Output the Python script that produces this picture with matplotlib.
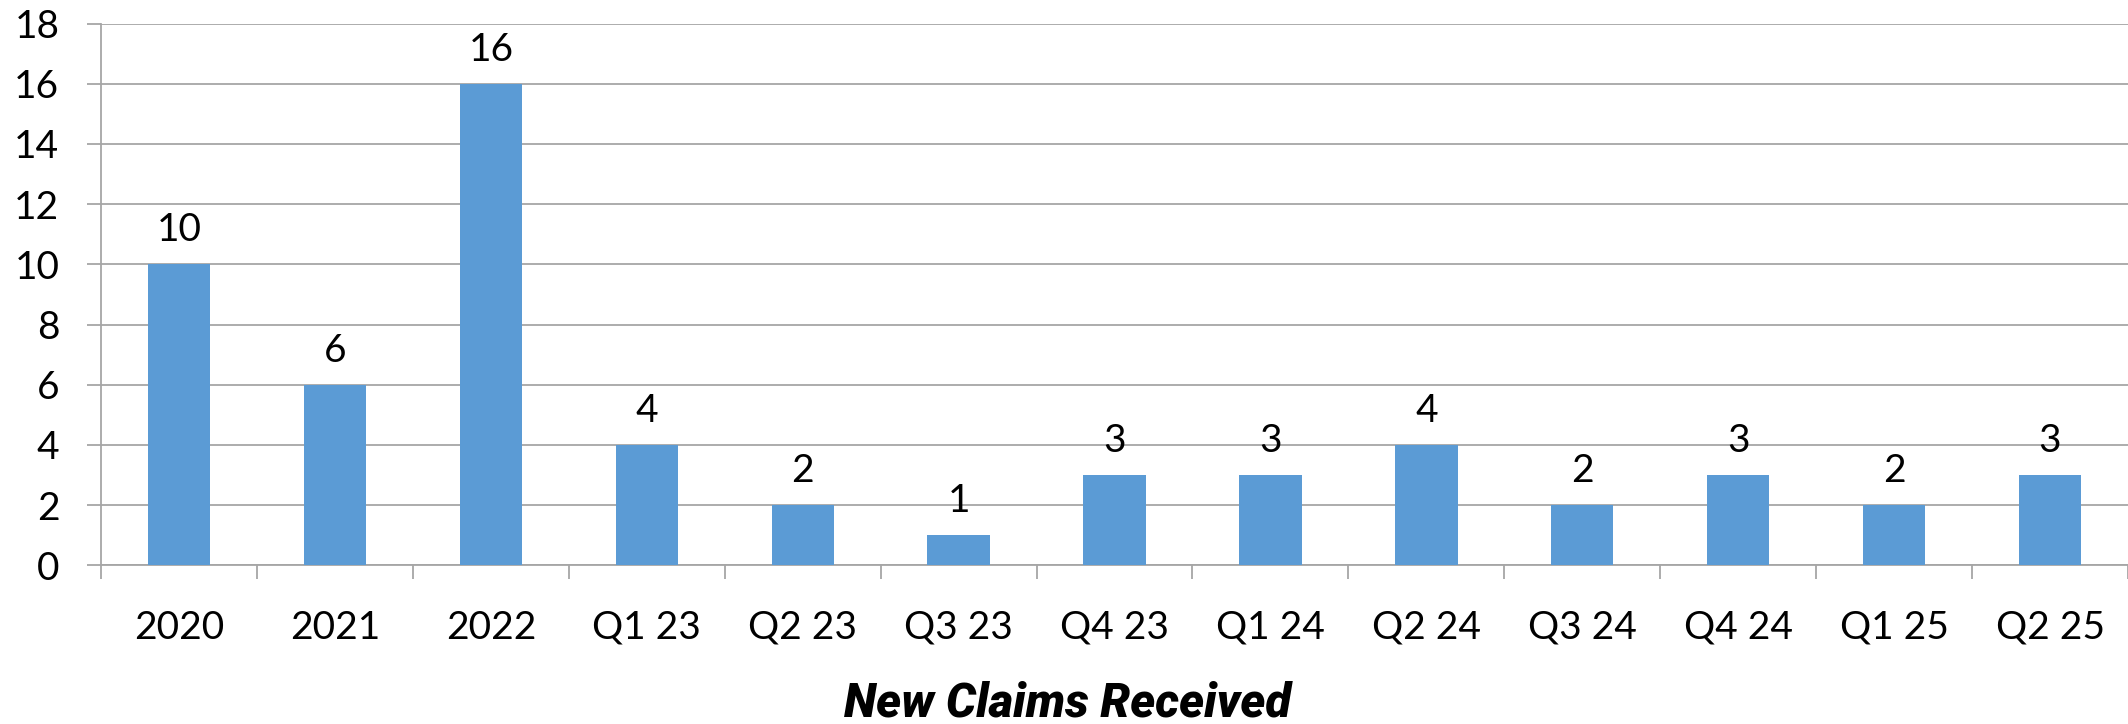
import matplotlib
matplotlib.use("Agg")
import matplotlib.pyplot as plt
import numpy as np

categories = ["2020", "2021", "2022", "Q1 23", "Q2 23", "Q3 23", "Q4 23",
              "Q1 24", "Q2 24", "Q3 24", "Q4 24", "Q1 25", "Q2 25"]
claims = [10, 6, 16, 4, 2, 1, 3, 3, 4, 2, 3, 2, 3]
y_ticks = [0, 2, 4, 6, 8, 10, 12, 14, 16, 18]
title = "New Claims Received"

BAR_COLOR = "#5B9BD5"
GRID_COLOR = "#A6A6A6"
LABEL_FONT = ["Lato", "DejaVu Sans"]

fig = plt.figure(figsize=(21.28, 7.24), dpi=100)
ax = fig.add_axes([0.0475, 0.2192, 0.9525, 0.7483])

x = np.arange(len(categories))
ax.bar(x, claims, width=0.4, color=BAR_COLOR, zorder=3)

for xi, v in zip(x, claims):
    ax.annotate(str(v), (xi, v), xytext=(0, 16.5), textcoords="offset points",
                ha="center", va="baseline", fontsize=28, family=LABEL_FONT,
                color="#000000")

ax.set_xlim(-0.5, len(categories) - 0.5)
ax.set_ylim(0, 18)
ax.set_yticks(y_ticks)
ax.set_yticklabels([str(t) for t in y_ticks], family=LABEL_FONT, fontsize=28)
ax.set_xticks(x)
ax.set_xticklabels(categories, family=LABEL_FONT, fontsize=28)
ax.set_xticks(np.arange(len(categories) + 1) - 0.5, minor=True)

ax.grid(axis="y", color=GRID_COLOR, linewidth=1.3, zorder=0)
ax.tick_params(axis="y", length=10, width=1.3, color=GRID_COLOR, pad=20)
ax.tick_params(axis="x", which="major", length=0, pad=32)
ax.tick_params(axis="x", which="minor", length=10, width=1.3, color=GRID_COLOR)

for side in ("top", "right"):
    ax.spines[side].set_visible(False)
for side in ("left", "bottom"):
    ax.spines[side].set_color(GRID_COLOR)
    ax.spines[side].set_linewidth(1.3)

fig.text(0.5015, 0.0097, title, ha="center", va="baseline", fontsize=34,
         family=["Roboto", "DejaVu Sans"], fontweight="black", style="italic")

fig.savefig("out.png", dpi=100, facecolor="white")
